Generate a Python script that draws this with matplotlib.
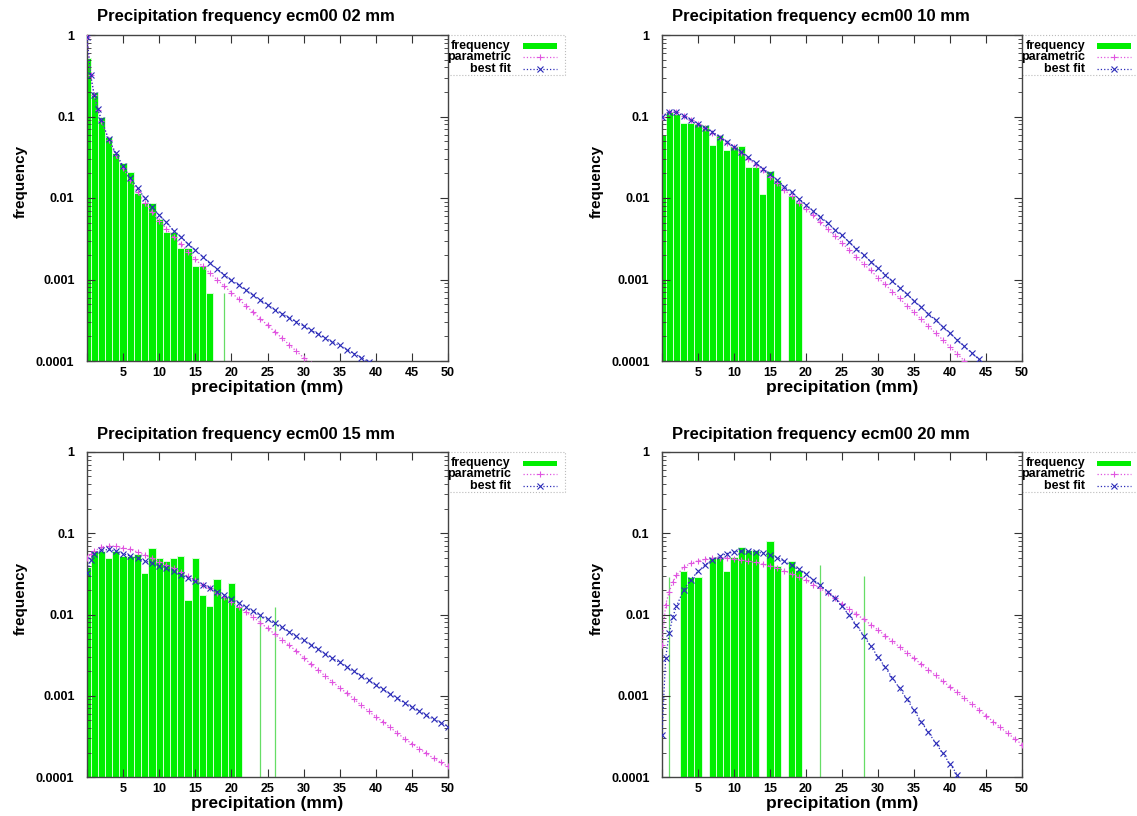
import matplotlib
matplotlib.use("Agg")
import matplotlib.pyplot as plt
from matplotlib.lines import Line2D
from matplotlib.patches import Rectangle
from matplotlib.ticker import LogLocator, NullFormatter

plt.rcParams['font.family'] = ['Liberation Sans', 'DejaVu Sans']
plt.rcParams['font.weight'] = 'bold'

# ---------------- data ----------------
titles = ["Precipitation frequency ecm00 02 mm", "Precipitation frequency ecm00 10 mm",
          "Precipitation frequency ecm00 15 mm", "Precipitation frequency ecm00 20 mm"]
x_ticks = [0, 5, 10, 15, 20, 25, 30, 35, 40, 45, 50]
x_tick_labels = ["", "5", "10", "15", "20", "25", "30", "35", "40", "45", "50"]
y_ticks = [0.0001, 0.001, 0.01, 0.1, 1]
y_tick_labels = ["0.0001", "0.001", "0.01", "0.1", "1"]
legend_labels = ["frequency", "parametric", "best fit"]

# panel 1: 02 mm
p1_bar_x = [0, 1, 2, 3, 4, 5, 6, 7, 8, 9, 10, 11, 12, 13, 14, 15, 16, 17]
p1_bar_y = [0.515, 0.20, 0.099, 0.0556, 0.036, 0.027, 0.021, 0.0114, 0.0086, 0.0086,
            0.0056, 0.0038, 0.0038, 0.00245, 0.00245, 0.00148, 0.00148, 0.00068]
p1_spike_x = [19]
p1_spike_y = [0.00068]
p1_curve_x = [0, 0.5, 1, 1.5, 2, 3, 4, 5, 6, 7, 8, 9, 10, 11, 12, 13, 14, 15, 16, 17, 18,
              19, 20, 21, 22, 23, 24, 25, 26, 27, 28, 29, 30, 31, 32, 33, 34, 35, 36, 37,
              38, 39, 40]
p1_param = [0.955, 0.324, 0.182, 0.120, 0.0891, 0.0513, 0.0339, 0.0234, 0.0166, 0.0120,
            0.00871, 0.00676, 0.00525, 0.00417, 0.00331, 0.00269, 0.00219, 0.00178,
            0.00145, 0.00120, 0.00100, 0.000832, 0.000692, 0.000575, 0.000479, 0.000398,
            0.000331, 0.000275, 0.000229, 0.000191, 0.000158, 0.000132, 0.000110, 0.0000912]
p1_fit = [0.955, 0.324, 0.182, 0.123, 0.0912, 0.0525, 0.0355, 0.0245, 0.0178, 0.0132,
          0.0100, 0.00776, 0.00617, 0.00501, 0.00398, 0.00331, 0.00275, 0.00229, 0.00191,
          0.00158, 0.00135, 0.00115, 0.000977, 0.000851, 0.000741, 0.000646, 0.000562,
          0.000490, 0.000427, 0.000380, 0.000339, 0.000302, 0.000269, 0.000240, 0.000214,
          0.000191, 0.000170, 0.000155, 0.000138, 0.000123, 0.000110, 0.0000977, 0.0000871]

# panel 2: 10 mm
p2_bar_x = [0, 1, 2, 3, 4, 5, 6, 7, 8, 9, 10, 11, 12, 13, 14, 15, 16, 18, 19]
p2_bar_y = [0.060, 0.113, 0.106, 0.084, 0.084, 0.080, 0.078, 0.045, 0.059, 0.0384,
            0.0439, 0.0439, 0.0237, 0.0237, 0.0111, 0.0217, 0.0164, 0.0107, 0.0090]
p2_spike_x = []
p2_spike_y = []
p2_curve_x = list(range(0, 46))
p2_param = [0.100, 0.115, 0.112, 0.102, 0.0912, 0.0813, 0.0724, 0.0631, 0.0550, 0.0479,
            0.0417, 0.0355, 0.0302, 0.0257, 0.0219, 0.0182, 0.0151, 0.0126, 0.0105,
            0.00871, 0.00741, 0.00617, 0.00501, 0.00417, 0.00339, 0.00282, 0.00229,
            0.00191, 0.00155, 0.00129, 0.00105, 0.000871, 0.000708, 0.000589, 0.000479,
            0.000398, 0.000324, 0.000269, 0.000219, 0.000182, 0.000148, 0.000123,
            0.000100, 0.0000832]
p2_fit = [0.100, 0.115, 0.112, 0.102, 0.0912, 0.0813, 0.0724, 0.0646, 0.0562, 0.0490,
          0.0427, 0.0372, 0.0316, 0.0269, 0.0229, 0.0195, 0.0166, 0.0138, 0.0117,
          0.00977, 0.00832, 0.00692, 0.00589, 0.00490, 0.00407, 0.00347, 0.00288,
          0.00240, 0.00200, 0.00166, 0.00138, 0.00115, 0.000955, 0.000794, 0.000661,
          0.000550, 0.000457, 0.000380, 0.000316, 0.000263, 0.000219, 0.000182,
          0.000151, 0.000126, 0.000105, 0.0000871]

# panel 3: 15 mm
p3_bar_x = [0, 1, 2, 3, 4, 5, 6, 7, 8, 9, 10, 11, 12, 13, 14, 15, 16, 17, 18, 19, 20, 21]
p3_bar_y = [0.038, 0.061, 0.061, 0.050, 0.061, 0.052, 0.052, 0.0557, 0.0324, 0.066,
            0.050, 0.046, 0.050, 0.052, 0.0149, 0.050, 0.0175, 0.0126, 0.0275, 0.0170,
            0.0245, 0.0123]
p3_spike_x = [24, 26]
p3_spike_y = [0.0095, 0.0125]
p3_curve_x = [0, 0.5] + list(range(1, 51))
p3_param = [0.0490, 0.0550, 0.0603, 0.0676, 0.0700, 0.0692, 0.0661, 0.0631, 0.0589,
            0.0537, 0.0490, 0.0447, 0.0407, 0.0372, 0.0331, 0.0295, 0.0263, 0.0234,
            0.0209, 0.0182, 0.0162, 0.0141, 0.0123, 0.0107, 0.00933, 0.00794, 0.00676,
            0.00575, 0.00490, 0.00417, 0.00355, 0.00295, 0.00245, 0.00209, 0.00174,
            0.00148, 0.00126, 0.00107, 0.000912, 0.000759, 0.000646, 0.000550, 0.000479,
            0.000407, 0.000347, 0.000295, 0.000257, 0.000224, 0.000195, 0.000170,
            0.000151, 0.000135]
p3_fit = [0.0324, 0.0468, 0.0562, 0.0617, 0.0631, 0.0603, 0.0562, 0.0525, 0.0490, 0.0457,
          0.0427, 0.0398, 0.0372, 0.0339, 0.0309, 0.0282, 0.0257, 0.0234, 0.0214, 0.0191,
          0.0174, 0.0155, 0.0138, 0.0123, 0.0110, 0.00977, 0.00871, 0.00776, 0.00692,
          0.00617, 0.00537, 0.00479, 0.00427, 0.00372, 0.00331, 0.00288, 0.00257,
          0.00224, 0.00200, 0.00174, 0.00155, 0.00135, 0.00120, 0.00105, 0.000933,
          0.000813, 0.000724, 0.000646, 0.000575, 0.000513, 0.000468, 0.000417]

# panel 4: 20 mm
p4_bar_x = [3, 4, 5, 7, 8, 9, 10, 11, 12, 13, 15, 16, 18, 19]
p4_bar_y = [0.034, 0.029, 0.029, 0.0516, 0.0516, 0.034, 0.0516, 0.0686, 0.0624, 0.0624,
            0.080, 0.040, 0.046, 0.035]
p4_spike_x = [1, 22, 28]
p4_spike_y = [0.029, 0.041, 0.0295]
p4_curve_x = [0, 0.5, 1, 1.5, 2] + list(range(3, 51))
p4_param = [0.00427, 0.0132, 0.0191, 0.0251, 0.0302, 0.0380, 0.0427, 0.0457, 0.0479,
            0.0490, 0.0501, 0.0495, 0.0484, 0.0468, 0.0452, 0.0437, 0.0417, 0.0398,
            0.0372, 0.0347, 0.0316, 0.0288, 0.0263, 0.0234, 0.0209, 0.0182, 0.0158,
            0.0136, 0.0117, 0.0101, 0.00871, 0.00750, 0.00646, 0.00550, 0.00468,
            0.00398, 0.00339, 0.00288, 0.00245, 0.00209, 0.00178, 0.00151, 0.00129,
            0.00110, 0.000933, 0.000794, 0.000676, 0.000569, 0.000479, 0.000407,
            0.000347, 0.000295, 0.000251]
p4_fit = [0.000331, 0.00288, 0.00589, 0.00933, 0.0126, 0.0200, 0.0269, 0.0339, 0.0407,
          0.0468, 0.0519, 0.0562, 0.0589, 0.0603, 0.0603, 0.0589, 0.0569, 0.0537, 0.0501,
          0.0452, 0.0403, 0.0359, 0.0316, 0.0269, 0.0229, 0.0191, 0.0158, 0.0126,
          0.00977, 0.00741, 0.00550, 0.00407, 0.00302, 0.00224, 0.00166, 0.00123,
          0.000912, 0.000661, 0.000479, 0.000355, 0.000263, 0.000195, 0.000145,
          0.000107, 0.0000794]

panels = [
    (p1_bar_x, p1_bar_y, p1_spike_x, p1_spike_y, p1_curve_x, p1_param, p1_fit),
    (p2_bar_x, p2_bar_y, p2_spike_x, p2_spike_y, p2_curve_x, p2_param, p2_fit),
    (p3_bar_x, p3_bar_y, p3_spike_x, p3_spike_y, p3_curve_x, p3_param, p3_fit),
    (p4_bar_x, p4_bar_y, p4_spike_x, p4_spike_y, p4_curve_x, p4_param, p4_fit),
]

# ---------------- style ----------------
GREEN = '#00ee00'
SPIKE = '#66dd66'
MAGENTA = '#e055e0'
BLUE = '#2a2ab8'
W, H = 1137, 816

fig = plt.figure(figsize=(W / 100, H / 100), dpi=100)
fig.patch.set_facecolor('white')

# axes rectangles in pixels: left, top, right, bottom
rects_px = [(87, 35, 448, 361), (662, 35, 1022, 361),
            (87, 452, 448, 777), (662, 452, 1022, 777)]

for i, (rect, panel, title) in enumerate(zip(rects_px, panels, titles)):
    l, t, r, b = rect
    ax = fig.add_axes([l / W, 1 - b / H, (r - l) / W, (b - t) / H])
    bx, by, sx, sy, cx, par, fit = panel

    ax.bar(bx, by, width=1.0, color=GREEN, edgecolor='#d8ffd8', linewidth=0.7, zorder=1)
    if sx:
        ax.vlines(sx, 1e-5, sy, colors=SPIKE, linewidth=0.9, zorder=1)
    ax.plot(cx[:len(par)], par, linestyle=':', color=MAGENTA, linewidth=0.9,
            marker='+', markersize=4.5, markeredgewidth=0.8, zorder=3)
    ax.plot(cx[:len(fit)], fit, linestyle=':', color=BLUE, linewidth=0.9,
            marker='x', markersize=4, markeredgewidth=0.8, zorder=4)

    ax.set_yscale('log')
    ax.set_ylim(1e-4, 1)
    ax.set_xlim(0, 50)
    ax.set_yticks(y_ticks)
    ax.set_yticklabels(y_tick_labels)
    ax.yaxis.set_minor_locator(LogLocator(base=10, subs=range(2, 10), numticks=20))
    ax.yaxis.set_minor_formatter(NullFormatter())
    ax.set_xticks(x_ticks)
    ax.set_xticklabels(x_tick_labels)
    ax.tick_params(which='major', direction='in', top=True, right=True, length=6,
                   width=0.8, labelsize=9, color='#333333')
    ax.tick_params(which='minor', direction='in', left=True, right=True, length=3,
                   width=0.6, color='#333333')
    ax.tick_params(axis='y', which='major', pad=9)
    ax.tick_params(axis='x', which='major', pad=4)
    for lab in ax.get_xticklabels() + ax.get_yticklabels():
        lab.set_fontweight('bold')
    for sp in ax.spines.values():
        sp.set_color('#444444')
        sp.set_linewidth(1.0)

    ax.set_xlabel("precipitation (mm)", fontsize=12.5, fontweight='bold')
    ax.xaxis.set_label_coords(0.5, -0.058)
    ax.set_ylabel("frequency", fontsize=11, fontweight='bold')
    ax.yaxis.set_label_coords(-0.163, 0.55)

    ax.text(0.44, 1 + 18 / (b - t), title, transform=ax.transAxes, ha='center',
            va='center', fontsize=12, fontweight='bold')

    # legend (drawn outside the axes, gnuplot style)
    aw, ah = (r - l), (b - t)
    tx = 1 + 63 / aw
    s0, s1 = 1 + 75 / aw, 1 + 109 / aw
    rows = [1 - 11 / ah, 1 - 22 / ah, 1 - 34 / ah]
    for lab, yy in zip(legend_labels, rows):
        ax.text(tx, yy, lab, transform=ax.transAxes, ha='right', va='center',
                fontsize=9, fontweight='bold', clip_on=False)
    ax.add_patch(Rectangle((s0, rows[0] - 2.5 / ah), s1 - s0, 5 / ah,
                           transform=ax.transAxes, facecolor=GREEN, edgecolor='none',
                           clip_on=False))
    ax.add_line(Line2D([s0, s1], [rows[1], rows[1]], transform=ax.transAxes,
                       linestyle=':', color=MAGENTA, linewidth=0.9, clip_on=False))
    ax.add_line(Line2D([(s0 + s1) / 2], [rows[1]], transform=ax.transAxes, marker='+',
                       markersize=4.5, markeredgewidth=0.8, color=MAGENTA,
                       linestyle='none', clip_on=False))
    ax.add_line(Line2D([s0, s1], [rows[2], rows[2]], transform=ax.transAxes,
                       linestyle=':', color=BLUE, linewidth=0.9, clip_on=False))
    ax.add_line(Line2D([(s0 + s1) / 2], [rows[2]], transform=ax.transAxes, marker='x',
                       markersize=4, markeredgewidth=0.8, color=BLUE,
                       linestyle='none', clip_on=False))
    bx0, bx1 = 1.0, 1 + 117 / aw
    by0, by1 = 1 - 40 / ah, 1.0
    ax.add_line(Line2D([bx0, bx1, bx1, bx0], [by1, by1, by0, by0], transform=ax.transAxes,
                       linestyle=':', color='#bbbbbb', linewidth=0.8, clip_on=False))

fig.savefig("out.png", dpi=100, facecolor='white')
